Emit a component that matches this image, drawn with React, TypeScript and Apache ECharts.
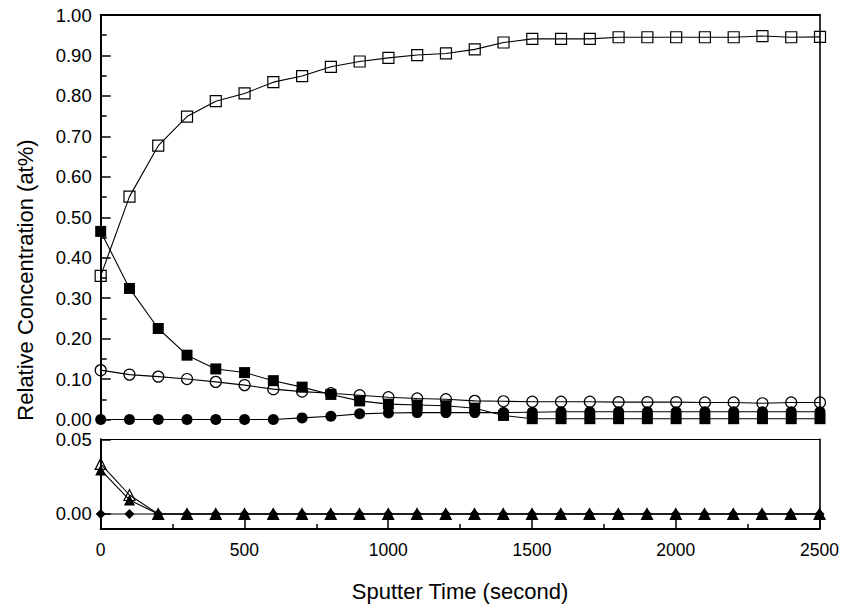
import React, { useEffect, useRef } from "react";
import * as echarts from "echarts";

// Sputter time (s)
const time = [0, 100, 200, 300, 400, 500, 600, 700, 800, 900, 1000, 1100, 1200, 1300, 1400, 1500, 1600, 1700, 1800, 1900, 2000, 2100, 2200, 2300, 2400, 2500];

// Upper panel series
const openSquare = [0.355, 0.551, 0.677, 0.749, 0.787, 0.806, 0.834, 0.849, 0.872, 0.885, 0.894, 0.901, 0.905, 0.915, 0.932, 0.941, 0.941, 0.941, 0.945, 0.945, 0.945, 0.945, 0.945, 0.948, 0.945, 0.946];
const filledSquare = [0.465, 0.324, 0.225, 0.159, 0.125, 0.116, 0.096, 0.080, 0.062, 0.046, 0.038, 0.036, 0.034, 0.028, 0.010, 0.002, 0.002, 0.002, 0.002, 0.002, 0.002, 0.002, 0.002, 0.002, 0.002, 0.002];
const openCircle = [0.122, 0.111, 0.106, 0.100, 0.093, 0.085, 0.075, 0.069, 0.065, 0.060, 0.055, 0.052, 0.050, 0.046, 0.045, 0.044, 0.044, 0.044, 0.043, 0.043, 0.043, 0.042, 0.042, 0.040, 0.042, 0.042];
const filledCircle = [0, 0, 0, 0, 0, 0, 0, 0.004, 0.008, 0.014, 0.016, 0.017, 0.017, 0.017, 0.017, 0.018, 0.019, 0.019, 0.019, 0.019, 0.019, 0.019, 0.019, 0.019, 0.019, 0.019];

// Lower panel series
const openTriangle = [0.0335, 0.0127, 0, 0, 0, 0, 0, 0, 0, 0, 0, 0, 0, 0, 0, 0, 0, 0, 0, 0, 0, 0, 0, 0, 0, 0];
const filledTriangle = [0.0295, 0.0094, 0, 0, 0, 0, 0, 0, 0, 0, 0, 0, 0, 0, 0, 0, 0, 0, 0, 0, 0, 0, 0, 0, 0, 0];
const diamond = [0, 0, 0, 0, 0, 0, 0, 0, 0, 0, 0, 0, 0, 0, 0, 0, 0, 0, 0, 0, 0, 0, 0, 0, 0, 0];

// Tick labels
const upperYTicks = [0, 0.1, 0.2, 0.3, 0.4, 0.5, 0.6, 0.7, 0.8, 0.9, 1.0];
const lowerYTicks = [0, 0.05];
const xTicks = [0, 500, 1000, 1500, 2000, 2500];

const FONT = "Liberation Sans, Arial, sans-serif";
const BLACK = "#000";

const pair = (arr: number[]) => time.map((t, i) => [t, arr[i]]);

const openStyle = { color: "rgba(0,0,0,0)", borderColor: BLACK, borderWidth: 1.2 };
const fillStyle = { color: BLACK, borderColor: BLACK, borderWidth: 0 };

function mk(name: string, data: number[], symbol: string, size: number, open: boolean, xi: number, yi: number) {
  return {
    name,
    type: "line",
    xAxisIndex: xi,
    yAxisIndex: yi,
    data: pair(data),
    symbol,
    symbolSize: size,
    showAllSymbol: true,
    clip: false,
    lineStyle: { color: BLACK, width: 1.1 },
    itemStyle: open ? openStyle : fillStyle,
    emphasis: { disabled: true },
    silent: true,
  };
}

const lineOnly = (w: number) => ({ show: true, onZero: false, lineStyle: { color: BLACK, width: w } });

export default function App() {
  const ref = useRef<HTMLDivElement>(null);
  useEffect(() => {
    const chart = echarts.init(ref.current!, null, { renderer: "svg" });
    const yLabelStyle = { color: BLACK, fontSize: 18.5, fontFamily: FONT };
    const xLabelStyle = { color: BLACK, fontSize: 17.5, fontFamily: FONT };
    const option: any = {
      animation: false,
      backgroundColor: "#fff",
      grid: [
        { left: 100.7, right: 22, top: 15, height: 404.5, containLabel: false },
        { left: 100.7, right: 22, top: 439.3, height: 89.6, containLabel: false },
      ],
      xAxis: [
        {
          gridIndex: 0, type: "value", position: "top", min: 0, max: 2500, interval: 500,
          axisLine: lineOnly(2), axisTick: { show: false }, axisLabel: { show: false }, splitLine: { show: false },
        },
        {
          gridIndex: 1, type: "value", position: "bottom", min: 0, max: 2500, interval: 500,
          axisLine: lineOnly(2),
          axisTick: { show: true, inside: true, length: 9, lineStyle: { color: BLACK, width: 1.5 }, customValues: xTicks },
          minorTick: { show: true, splitNumber: 2, length: 5, lineStyle: { color: BLACK, width: 1.5 } },
          axisLabel: { ...xLabelStyle, margin: 12, customValues: xTicks, formatter: (v: number) => String(v) },
          splitLine: { show: false },
        },
        {
          gridIndex: 1, type: "value", position: "top", min: 0, max: 2500,
          axisLine: lineOnly(1), axisTick: { show: false }, axisLabel: { show: false }, splitLine: { show: false },
        },
      ],
      yAxis: [
        {
          gridIndex: 0, type: "value", position: "left", min: 0, max: 1, interval: 0.1,
          axisLine: lineOnly(2),
          axisTick: { show: true, inside: true, length: 10, lineStyle: { color: BLACK, width: 1.5 }, customValues: upperYTicks },
          minorTick: { show: true, splitNumber: 2, length: 6, lineStyle: { color: BLACK, width: 1.5 } },
          axisLabel: { ...yLabelStyle, margin: 9, customValues: upperYTicks, formatter: (v: number) => v.toFixed(2) },
          splitLine: { show: false },
        },
        {
          gridIndex: 0, type: "value", position: "right", min: 0, max: 1,
          axisLine: lineOnly(1.6), axisTick: { show: false }, axisLabel: { show: false }, splitLine: { show: false },
        },
        {
          gridIndex: 1, type: "value", position: "left", min: -0.01, max: 0.05,
          axisLine: lineOnly(2),
          axisTick: { show: true, inside: true, length: 10, lineStyle: { color: BLACK, width: 1.5 }, customValues: lowerYTicks },
          axisLabel: { ...yLabelStyle, margin: 9, customValues: lowerYTicks, formatter: (v: number) => v.toFixed(2) },
          splitLine: { show: false },
        },
        {
          gridIndex: 1, type: "value", position: "right", min: -0.01, max: 0.05,
          axisLine: lineOnly(1.6), axisTick: { show: false }, axisLabel: { show: false }, splitLine: { show: false },
        },
      ],
      series: [
        mk("open square", openSquare, "rect", 11, true, 0, 0),
        mk("filled circle", filledCircle, "circle", 11, false, 0, 0),
        mk("filled square", filledSquare, "rect", 11, false, 0, 0),
        mk("open circle", openCircle, "circle", 11, true, 0, 0),
        mk("diamond", diamond, "diamond", 10, false, 1, 2),
        mk("open triangle", openTriangle, "triangle", 11, true, 1, 2),
        mk("filled triangle", filledTriangle, "triangle", 11, false, 1, 2),
      ],
      graphic: [
        {
          type: "text", x: 25, y: 280, rotation: Math.PI / 2, silent: true,
          style: { text: "Relative Concentration (at%)", fontSize: 22, fontFamily: FONT, fill: BLACK, textAlign: "center", textVerticalAlign: "middle" },
        },
        {
          type: "text", x: 460, y: 591, silent: true,
          style: { text: "Sputter Time (second)", fontSize: 22, fontFamily: FONT, fill: BLACK, textAlign: "center", textVerticalAlign: "middle" },
        },
      ],
    };
    chart.setOption(option);
    return () => chart.dispose();
  }, []);
  return <div ref={ref} style={{ position: "fixed", left: 0, top: 0, width: 842, height: 608, background: "#fff" }} />;
}
